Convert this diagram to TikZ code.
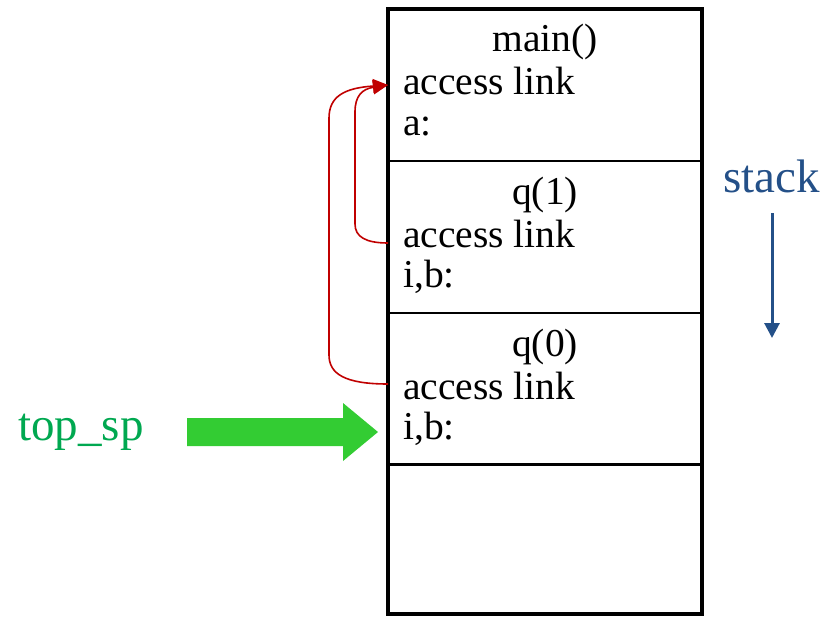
\documentclass[tikz,border=0pt]{standalone}
\usepackage{fontspec}
\setmainfont{Liberation Serif}
\newfontfamily\tms{Liberation Serif}
\usetikzlibrary{arrows.meta}
\definecolor{linkred}{RGB}{192,0,0}
\definecolor{stackblue}{RGB}{36,80,136}
\definecolor{spgreen}{RGB}{0,168,80}
\definecolor{arrowgreen}{RGB}{51,204,51}
\begin{document}
\begin{tikzpicture}[x=1pt,y=-1pt,
  cell/.style={draw=black, line width=1.8pt, minimum width=314pt, minimum height=152pt, inner sep=0pt},
  frametxt/.style={font=\tms\fontsize{39.5}{44}\selectfont, inner sep=0pt},
  bigtxt/.style={font=\tms\fontsize{47}{52}\selectfont, inner sep=0pt},
  link/.style={draw=linkred, line width=1.6pt, -{Triangle[length=15pt,width=14pt]}},
]
\useasboundingbox (0,0) rectangle (838,618);
% cells
\node[cell] (c1) at (545,85) {};
\node[cell] (c2) at (545,237) {};
\node[cell] (c3) at (545,389) {};
\node[cell] (c4) at (545,539.5) {};
\draw[line width=4pt] (388,9) rectangle (702,614);
% texts
\node[frametxt, anchor=base] (m) at (545,52) {main()};
\node[frametxt, anchor=base west] (al0) at (403,95) {access link};
\node[frametxt, anchor=base west] (va) at (403,135) {a:};
\node[frametxt, anchor=base] (q1) at (545,204) {q(1)};
\node[frametxt, anchor=base west] (al1) at (403,247) {access link};
\node[frametxt, anchor=base west] (ib1) at (403,287) {i,b:};
\node[frametxt, anchor=base] (q0) at (545,356) {q(0)};
\node[frametxt, anchor=base west] (al2) at (403,399) {access link};
\node[frametxt, anchor=base west] (ib2) at (403,439) {i,b:};
% access links
\coordinate (t0) at (388,85);
\coordinate (s1) at (388,243);
\coordinate (s2) at (388,384);
\draw[link] (s2) .. controls (345,384) and (329,374) .. (329,355) -- (329,118)
  .. controls (329,96) and (345,88) .. (t0);
\draw[link] (s1) .. controls (366,243) and (355,237) .. (355,224) -- (355,112)
  .. controls (355,96) and (362,89) .. (t0);
% stack label
\node[bigtxt, text=stackblue, anchor=base] (stack) at (771.5,192) {stack};
\coordinate (sa) at (772,213);
\coordinate (sb) at (772,338);
\draw[stackblue, line width=3pt, -{Triangle[length=15pt,width=15pt]}] (sa) -- (sb);
% top_sp
\node[bigtxt, text=spgreen, anchor=base west] (tsp) at (18,440) {top\_sp};
\coordinate (ga) at (187,432);
\fill[arrowgreen] (ga) ++(0,-14) -- ++(156,0) -- ++(0,-15) -- (378,432) -- (343,461) -- ++(0,-15) -- ++(-156,0) -- cycle;
\end{tikzpicture}
\end{document}
